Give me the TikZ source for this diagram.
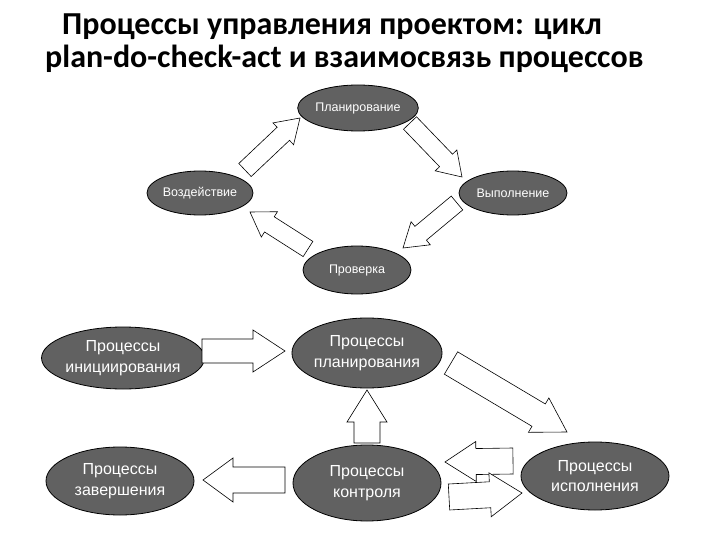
\documentclass[tikz,border=0pt]{standalone}
\usepackage{fontspec}
\setmainfont{Liberation Sans}
\newfontfamily\titlefont{Carlito}
\usetikzlibrary{shapes.geometric,calc}

% hollow block arrow: tail, tip, shaft half width, head half width, head length
\newcommand{\blockarrow}[5]{%
  \coordinate (neck) at ($(#2)!#5!(#1)$);
  \draw[hollow] ($(#1)!#3!90:(#2)$) -- ($(neck)!#3!90:(#2)$) -- ($(neck)!#4!90:(#2)$) -- (#2)
    -- ($(neck)!#4!-90:(#2)$) -- ($(neck)!#3!-90:(#2)$) -- ($(#1)!#3!-90:(#2)$) -- cycle;}

\begin{document}
\begin{tikzpicture}[x=1pt,y=-1pt,
    proc/.style={ellipse,draw=black,line width=0.8pt,fill=black!62,text=white,inner sep=0pt,align=center},
    small/.style={proc,font=\fontsize{12.5}{14}\selectfont},
    big/.style={proc,font=\fontsize{16}{20.5}\selectfont},
    hollow/.style={draw=black,fill=white,line width=0.6pt,line join=miter},
    title/.style={anchor=base west,inner sep=0pt,font=\titlefont\bfseries\fontsize{32}{36}\selectfont}]
  \useasboundingbox[fill=white] (0,0) rectangle (720,540);

  % title
  \node[title] (title1) at (62,35) {Процессы управления проектом: цикл};
  \node[title] (title2) at (45,68) {plan-do-check-act и взаимосвязь процессов};

  % plan-do-check-act cycle
  \node[small,minimum width=110pt,minimum height=46pt] (plan) at (358,108) {Планирование};
  \node[small,minimum width=108pt,minimum height=44pt] (do) at (513,193) {Выполнение};
  \node[small,minimum width=108pt,minimum height=48pt] (check) at (357,270) {Проверка};
  \node[small,minimum width=106pt,minimum height=44pt] (act) at (200,193) {Воздействие};

  \coordinate (act-out) at (245,170);   \coordinate (plan-in) at (300,118);
  \coordinate (plan-out) at (410,123);  \coordinate (do-in) at (462,177);
  \coordinate (do-out) at (457,203);    \coordinate (check-in) at (403,248);
  \coordinate (check-out) at (308,249); \coordinate (act-in) at (250,212);

  \blockarrow{act-out}{plan-in}{9pt}{15pt}{23pt}
  \blockarrow{plan-out}{do-in}{9pt}{15pt}{23pt}
  \blockarrow{do-out}{check-in}{9pt}{15pt}{23pt}
  \blockarrow{check-out}{act-in}{9pt}{15pt}{23pt}

  % process groups
  \node[big,minimum width=143pt,minimum height=62pt] (init) at (123,358) {Процессы\\инициирования};
  \node[big,minimum width=148pt,minimum height=70pt] (planning) at (367,353) {Процессы\\планирования};
  \node[big,minimum width=148pt,minimum height=68pt] (closing) at (120,481) {Процессы\\завершения};
  \node[big,minimum width=148pt,minimum height=76pt] (control) at (367,483) {Процессы\\контроля};
  \node[big,minimum width=148pt,minimum height=68pt] (exec) at (595,476) {Процессы\\исполнения};

  \coordinate (init-out) at (202,351);     \coordinate (planning-in) at (285,351);
  \coordinate (planning-out) at (451,363); \coordinate (exec-in) at (567,432);
  \coordinate (control-up) at (367,443);   \coordinate (planning-back) at (367,390);
  \coordinate (control-left) at (285,480); \coordinate (closing-in) at (203,480);
  \coordinate (exec-out) at (513,461);     \coordinate (control-in) at (445,462);
  \coordinate (control-right) at (449,497);\coordinate (exec-back) at (522,493);

  \blockarrow{init-out}{planning-in}{12pt}{21pt}{32pt}
  \blockarrow{planning-out}{exec-in}{13pt}{20pt}{33pt}
  \blockarrow{control-up}{planning-back}{13pt}{20pt}{32pt}
  \blockarrow{control-left}{closing-in}{13pt}{22pt}{30pt}
  \blockarrow{exec-out}{control-in}{13pt}{20pt}{31pt}
  \blockarrow{control-right}{exec-back}{13pt}{22pt}{32pt}
\end{tikzpicture}
\end{document}
